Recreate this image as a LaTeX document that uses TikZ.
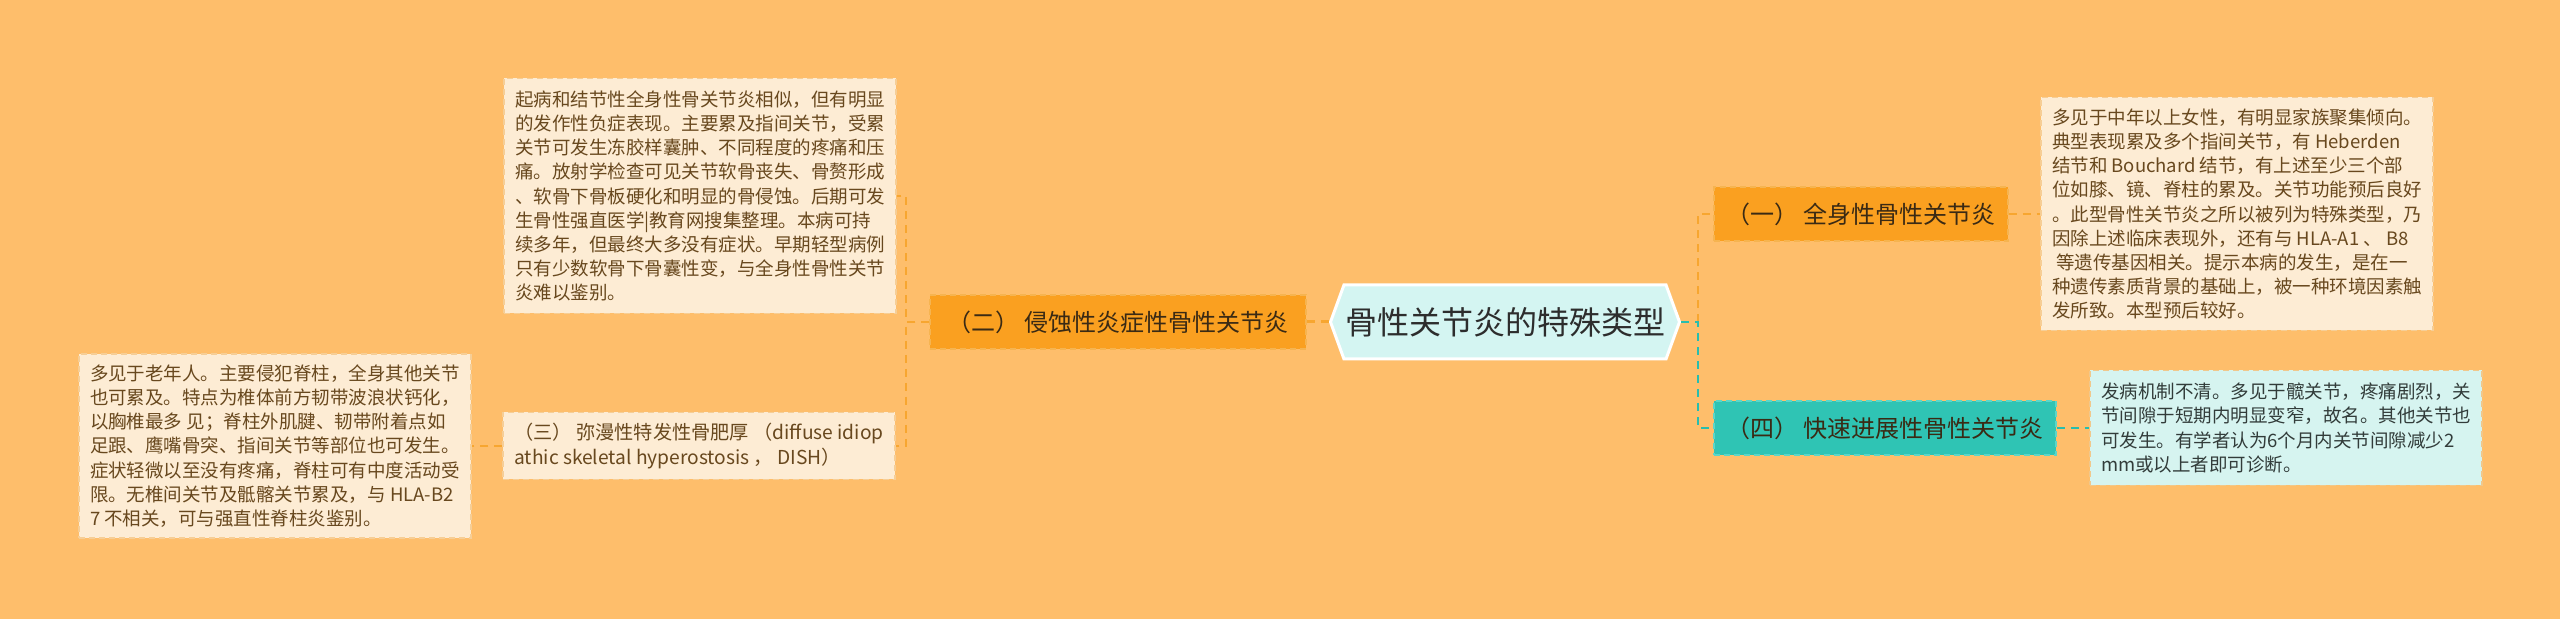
\documentclass[tikz,border=0pt]{standalone}
\usepackage{fontspec}
\newfontfamily\cjk{Noto Sans CJK SC}
\usetikzlibrary{positioning,shapes.symbols}

\definecolor{bgcol}{RGB}{254,190,107}
\definecolor{rootfill}{RGB}{212,245,242}
\definecolor{roottext}{RGB}{45,45,45}
\definecolor{orfill}{RGB}{250,160,32}
\definecolor{orline}{RGB}{246,180,80}
\definecolor{tlfill}{RGB}{47,196,180}
\definecolor{tlline}{RGB}{90,214,200}
\definecolor{topictext}{RGB}{58,42,20}
\definecolor{notefill}{RGB}{253,236,212}
\definecolor{noteline}{RGB}{246,206,150}
\definecolor{notetext}{RGB}{104,72,30}
\definecolor{dfourfill}{RGB}{214,244,240}
\definecolor{dfourline}{RGB}{240,200,140}
\definecolor{dfourtext}{RGB}{50,60,58}
\definecolor{orlinkcol}{RGB}{247,166,48}
\definecolor{tllinkcol}{RGB}{40,190,174}

\begin{document}
\begin{tikzpicture}[x=0.5pt,y=-0.5pt,on grid,
   root/.style={shape=signal,signal to=west and east,signal pointer angle=140,fill=rootfill,draw=white,line width=1.5pt,text=roottext,font=\cjk\fontsize{16}{19}\selectfont,minimum width=174.5pt,minimum height=37pt,inner sep=0pt},
   topic/.style={dash pattern=on 3pt off 2pt,line width=0.6pt,minimum height=27pt,inner sep=0pt,font=\cjk\fontsize{12}{14}\selectfont,text=topictext},
   ortopic/.style={topic,fill=orfill,draw=orline},
   tltopic/.style={topic,fill=tlfill,draw=tlline},
   note/.style={dash pattern=on 3pt off 2pt,line width=0.6pt,fill=notefill,draw=noteline,text=notetext,align=left,minimum width=196pt,inner sep=0pt,font=\cjk\fontsize{9.25}{12.1}\selectfont},
   orlink/.style={draw=orlinkcol,line width=1pt,dash pattern=on 4pt off 3pt},
   tllink/.style={draw=tllinkcol,line width=1pt,dash pattern=on 4pt off 3pt}]
   \fill[bgcol] (0,0) rectangle (2560,619);
   \node[root] (root) at (1505,322) {骨性关节炎的特殊类型};
   \node[ortopic,minimum width=188pt] (n2) [left=193.5pt of root] {（二） 侵蚀性炎症性骨性关节炎};
   \node[note,minimum height=117.5pt] (d2) [above left=63pt and 209pt of n2] {%
起病和结节性全身性骨关节炎相似，但有明显\\
的发作性负症表现。主要累及指间关节，受累\\
关节可发生冻胶样囊肿、不同程度的疼痛和压\\
痛。放射学检查可见关节软骨丧失、骨赘形成\\
、软骨下骨板硬化和明显的骨侵蚀。后期可发\\
生骨性强直医学|教育网搜集整理。本病可持\\
续多年，但最终大多没有症状。早期轻型病例\\
只有少数软骨下骨囊性变，与全身性骨性关节\\
炎难以鉴别。};
   \node[note,minimum height=33.5pt,font=\cjk\fontsize{9.6}{12.5}\selectfont] (n3) [below left=62pt and 209.5pt of n2] {%
（三） 弥漫性特发性骨肥厚 （diffuse idiop\\
athic skeletal hyperostosis ， DISH）};
   \node[note,minimum height=92pt] (d3) [left=212pt of n3] {%
多见于老年人。主要侵犯脊柱，全身其他关节\\
也可累及。特点为椎体前方韧带波浪状钙化，\\
以胸椎最多 见；脊柱外肌腱、韧带附着点如\\
足跟、鹰嘴骨突、指间关节等部位也可发生。\\
症状轻微以至没有疼痛，脊柱可有中度活动受\\
限。无椎间关节及骶髂关节累及，与 HLA-B2\\
7 不相关，可与强直性脊柱炎鉴别。};
   \node[ortopic,minimum width=147pt] (n1) [above right=54pt and 178pt of root] {（一） 全身性骨性关节炎};
   \node[tltopic,minimum width=171pt] (n4) [below right=53pt and 190pt of root] {（四） 快速进展性骨性关节炎};
   \node[note,minimum height=116.5pt] (d1) [right=188pt of n1] {%
多见于中年以上女性，有明显家族聚集倾向。\\
典型表现累及多个指间关节，有 Heberden\\
结节和 Bouchard 结节，有上述至少三个部\\
位如膝、镜、脊柱的累及。关节功能预后良好\\
。此型骨性关节炎之所以被列为特殊类型，乃\\
因除上述临床表现外，还有与 HLA-A1 、 B8\\
\ 等遗传基因相关。提示本病的发生，是在一\\
种遗传素质背景的基础上，被一种环境因素触\\
发所致。本型预后较好。};
   \node[note,minimum height=57.5pt,fill=dfourfill,draw=dfourline,text=dfourtext] (d4) [right=200.5pt of n4] {%
发病机制不清。多见于髋关节，疼痛剧烈，关\\
节间隙于短期内明显变窄，故名。其他关节也\\
可发生。有学者认为6个月内关节间隙减少2\\
mm或以上者即可诊断。};
   \draw[orlink,line width=1.5pt] (root.west) -- (n2.east);
   \draw[orlink] (n2.west) -- ++(-11.5pt,0) |- (d2.east);
   \draw[orlink] (n2.west) -- ++(-11.5pt,0) |- (n3.east);
   \draw[orlink] (n3.west) -- (d3.east);
   \draw[orlink] (root.east) ++(8.5pt,0) |- (n1.west);
   \draw[tllink] (root.east) -- ++(8.5pt,0) |- (n4.west);
   \draw[orlink] (n1.east) -- (d1.west);
   \draw[tllink] (n4.east) -- (d4.west);
\end{tikzpicture}
\end{document}
